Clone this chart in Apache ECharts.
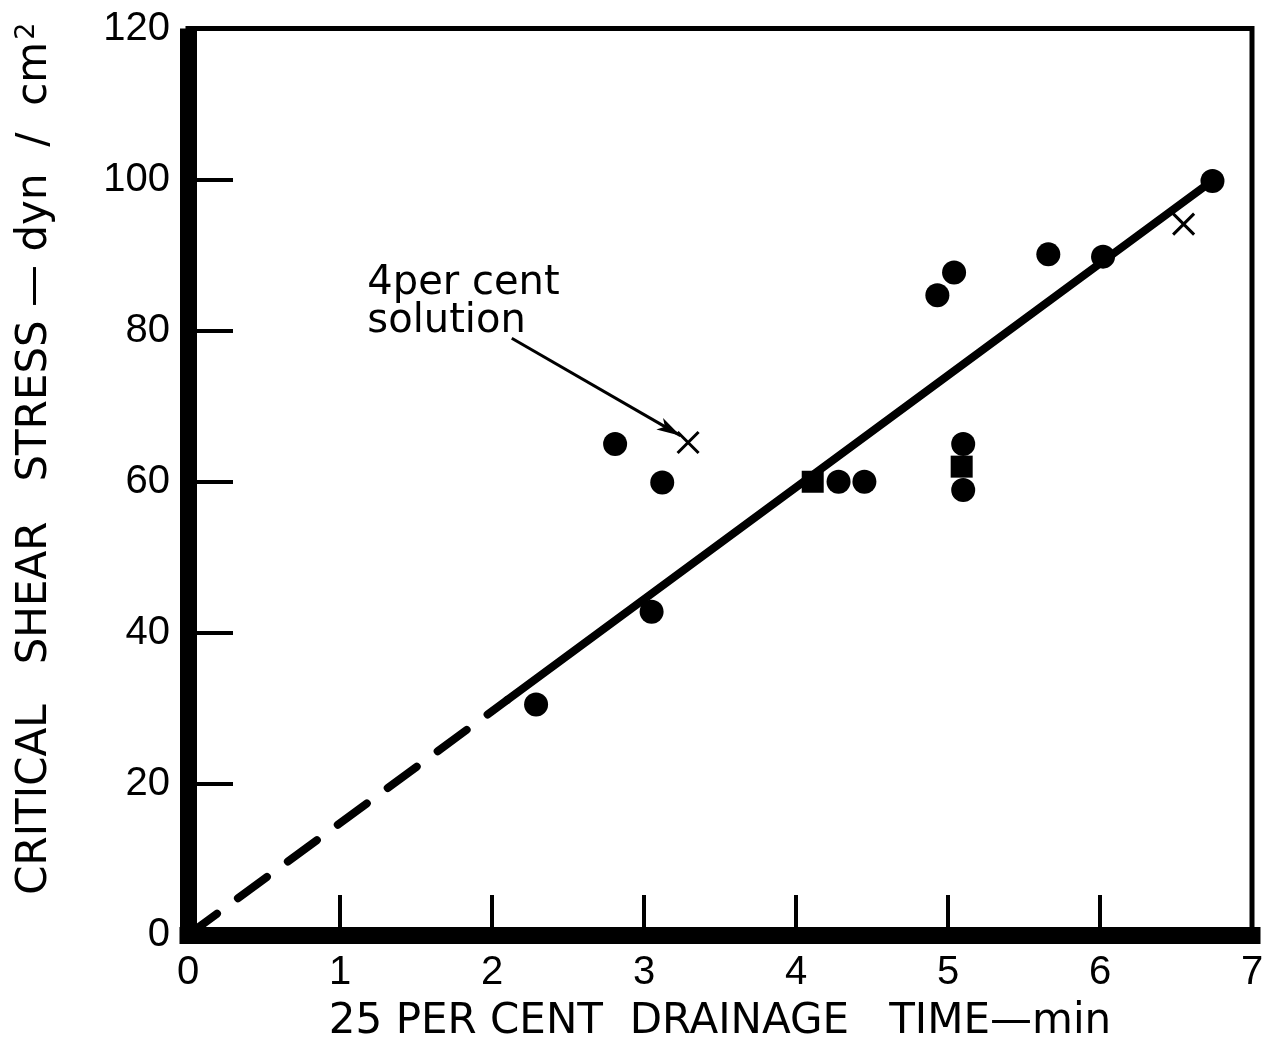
<!DOCTYPE html>
<html>
<head>
<meta charset="utf-8">
<script src="https://cdn.jsdelivr.net/npm/echarts@6/dist/echarts.min.js"></script>
<style>
  html, body { margin: 0; padding: 0; background: #fff; }
  #chart { width: 1271px; height: 1048px; }
</style>
</head>
<body>
<div id="chart"></div>
<script>
// Drainage time (min) vs critical shear stress (dyn/cm²)
const circleX = [2.29, 2.81, 3.12, 3.05, 4.28, 4.45, 4.93, 5.04, 5.10, 5.10, 5.66, 6.02, 6.74];
const circleY = [30.5, 65.0, 59.9, 42.8, 60.0, 60.0, 84.7, 87.7, 65.0, 58.9, 90.1, 89.8, 99.8];

const squareX = [4.11, 5.09];
const squareY = [60.0, 62.0];

// 4 per cent solution
const crossX = [3.29, 6.55];
const crossY = [65.2, 94.1];

// fitted line: extrapolated part (dashed) and measured range (solid)
const dashX = [0, 2.1];
const dashY = [0, 31.1];
const solidX = [2.1, 6.75];
const solidY = [31.1, 100];

// annotation arrow from the note to the 4 per cent point
const arrowX = [2.13, 3.24];
const arrowY = [79.0, 66.1];
const noteText = '4per cent\nsolution';
const noteAt = [1.18, 88.7];

const xTicks = { min: 0, max: 7, interval: 1 };
const yTicks = { min: 0, max: 120, interval: 20 };

const xName = '25 PER CENT  DRAINAGE   TIME—min';
const yName = 'CRITICAL   SHEAR   STRESS — dyn  /  cm';

const pairs = (xs, ys) => xs.map((x, i) => [x, ys[i]]);

const chart = echarts.init(document.getElementById('chart'), null, { renderer: 'canvas' });

const labelFont = '"Liberation Sans", Arial, sans-serif';
const titleFont = '"DejaVu Sans", sans-serif';

chart.setOption({
  backgroundColor: '#fff',
  animation: false,
  grid: {
    left: 188, right: 19, top: 28.5, bottom: 110.5,
    show: true, borderColor: '#000', borderWidth: 5, backgroundColor: 'transparent'
  },
  xAxis: {
    type: 'value',
    min: xTicks.min, max: xTicks.max, interval: xTicks.interval,
    offset: 4,
    splitLine: { show: false },
    axisLine: { show: true, lineStyle: { color: '#000', width: 17, cap: 'square' } },
    axisTick: { show: true, inside: true, length: 40, lineStyle: { color: '#000', width: 4 } },
    axisLabel: { color: '#000', fontSize: 40, fontFamily: labelFont, margin: 14 },
    name: xName,
    nameLocation: 'middle',
    nameGap: 62,
    nameTextStyle: { color: '#000', fontSize: 42, fontFamily: titleFont }
  },
  yAxis: {
    type: 'value',
    min: yTicks.min, max: yTicks.max, interval: yTicks.interval,
    offset: 6,
    splitLine: { show: false },
    axisLine: { show: true, lineStyle: { color: '#000', width: 17, cap: 'butt' } },
    axisTick: { show: true, inside: true, length: 45, lineStyle: { color: '#000', width: 4 } },
    axisLabel: { color: '#000', fontSize: 40, fontFamily: labelFont, margin: 12 },
    name: '{t|' + yName + '}{s|2}',
    nameLocation: 'middle',
    nameGap: 124,
    nameRotate: 90,
    nameTextStyle: {
      color: '#000',
      padding: [0, 0, 0, 46],
      rich: {
        t: { fontSize: 42, fontFamily: titleFont, color: '#000' },
        s: { fontSize: 27, fontFamily: titleFont, color: '#000', verticalAlign: 'top', padding: [0, 0, 18, 2] }
      }
    }
  },
  series: [
    {
      name: 'fit (extrapolated)',
      type: 'line',
      data: pairs(dashX, dashY),
      symbol: 'none',
      silent: true,
      z: 3,
      lineStyle: { color: '#000', width: 8, type: [36, 26], cap: 'round' }
    },
    {
      name: 'fit',
      type: 'line',
      data: pairs(solidX, solidY),
      symbol: 'none',
      silent: true,
      z: 3,
      lineStyle: { color: '#000', width: 8, cap: 'round' }
    },
    {
      name: 'circles',
      type: 'scatter',
      data: pairs(circleX, circleY),
      symbol: 'circle',
      symbolSize: 24,
      z: 4,
      itemStyle: { color: '#000', opacity: 1 }
    },
    {
      name: 'squares',
      type: 'scatter',
      data: pairs(squareX, squareY),
      symbol: 'rect',
      symbolSize: 22,
      z: 4,
      itemStyle: { color: '#000', opacity: 1 }
    },
    {
      name: '4 per cent solution',
      type: 'scatter',
      data: pairs(crossX, crossY),
      symbol: 'path://M0,0L10,10M10,0L0,10',
      symbolSize: 21,
      z: 4,
      itemStyle: { color: 'transparent', borderColor: '#000', borderWidth: 3, opacity: 1 },
      markLine: {
        silent: true,
        animation: false,
        label: { show: false },
        symbol: ['none', 'arrow'],
        symbolSize: [10, 24],
        lineStyle: { color: '#000', width: 3, type: 'solid' },
        data: [[
          { coord: [arrowX[0], arrowY[0]] },
          { coord: [arrowX[1], arrowY[1]] }
        ]]
      }
    }
  ]
});

// place the note next to its arrow, anchored in data space
const p = chart.convertToPixel({ gridIndex: 0 }, noteAt);
chart.setOption({
  graphic: [{
    type: 'text',
    x: p[0], y: p[1],
    silent: true,
    style: {
      text: noteText,
      fill: '#000',
      font: '40px ' + titleFont,
      lineHeight: 38,
      textAlign: 'left',
      textVerticalAlign: 'top'
    }
  }]
});
</script>
</body>
</html>
